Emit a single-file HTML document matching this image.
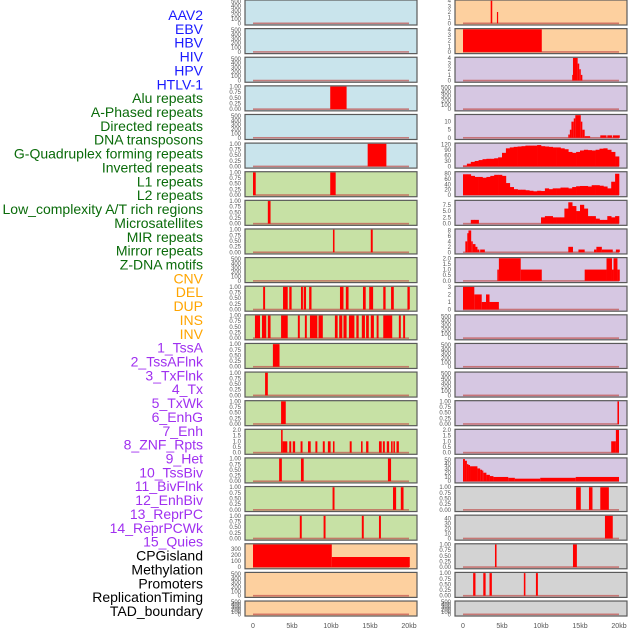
<!DOCTYPE html>
<html><head><meta charset="utf-8">
<style>
html,body{margin:0;padding:0;background:#fff;}
svg{display:block;font-family:"Liberation Sans",sans-serif;}
</style></head>
<body>
<svg id="chart" width="630" height="630" viewBox="0 0 630 630"></svg>
<script>
const trackLabels = ["AAV2","EBV","HBV","HIV","HPV","HTLV-1","Alu repeats","A-Phased repeats","Directed repeats","DNA transposons","G-Quadruplex forming repeats","Inverted repeats","L1 repeats","L2 repeats","Low_complexity A/T rich regions","Microsatellites","MIR repeats","Mirror repeats","Z-DNA motifs","CNV","DEL","DUP","INS","INV","1_TssA","2_TssAFlnk","3_TxFlnk","4_Tx","5_TxWk","6_EnhG","7_Enh","8_ZNF_Rpts","9_Het","10_TssBiv","11_BivFlnk","12_EnhBiv","13_ReprPC","14_ReprPCWk","15_Quies","CPGisland","Methylation","Promoters","ReplicationTiming","TAD_boundary"];
const labelGroups = [0,0,0,0,0,0,1,1,1,1,1,1,1,1,1,1,1,1,1,2,2,2,2,2,3,3,3,3,3,3,3,3,3,3,3,3,3,3,3,4,4,4,4,4];
const xTickLabels = ["0","5kb","10kb","15kb","20kb"];
const xTickValues = [0,5,10,15,20];
const A=["0","100","200","300","400","500"], B=["0.00","0.25","0.50","0.75","1.00"], C=["0.0","0.5","1.0","1.5","2.0"];
const leftTicks = [A,A,A,B,A,B,B,B,B,A,B,B,B,B,B,C,B,B,B,["0","100","200","300"],A,A];
const leftMax = [520,520,520,1,520,1,1,1,1,520,1,1,1,1,1,2,1,1,1,370,520,520];
const rightTicks = [["0","1","2","3","4"],["0","1","2","3","4"],["0","1","2","3","4"],A,["0","5","10"],["0","30","60","90","120"],["0","20","40","60","80"],["0.0","2.5","5.0","7.5"],["0","2","4","6","8"],C,["0","1","2","3"],A,A,A,B,C,["0","10","20","30","40","50"],B,["0","10","20","30","40"],B,B,A];
const rightMax = [4,4,4,520,14,125,85,9,8.3,2,3,520,520,520,1,2,53,1,45,1,1,520];
const leftSegs = [
 [],[],[],
 [[9.9,12.0,1]],
 [],
 [[14.7,17.1,1]],
 [[0,0.35,1],[9.9,10.6,1]],
 [[1.9,2.25,1]],
 [[10.25,10.45,1],[15.1,15.35,1]],
 [],
 [[1.3,1.55,1],[3.85,4.45,1],[4.65,4.95,1],[6.15,6.4,1],[6.5,6.8,1],[7.2,7.5,1],[11.15,11.6,1],[11.9,12.25,1],[14.1,14.45,1],[14.9,15.4,1],[16.7,17.0,1],[17.7,18.05,1],[19.8,20.1,1]],
 [[0.25,0.9,1],[1.15,1.7,1],[1.9,2.25,1],[3.6,4.45,1],[5.75,6.0,1],[6.65,6.9,1],[7.3,8.25,1],[8.4,8.95,1],[10.5,10.85,1],[11.05,11.45,1],[11.6,12.0,1],[12.3,13.0,1],[13.25,13.55,1],[13.95,14.35,1],[14.5,14.85,1],[15.1,15.5,1],[15.85,16.1,1],[16.7,17.85,1],[18.7,18.95,1],[19.25,19.5,1]],
 [[2.55,3.4,1]],
 [[1.55,1.9,1]],
 [[3.6,4.2,1]],
 [[3.6,3.8,2],[3.8,4.4,1],[4.65,4.9,1],[5.1,5.4,1],[6.1,6.35,1],[7.05,7.4,1],[8.0,8.25,1],[8.95,9.2,1],[9.6,9.95,1],[10.25,10.45,1],[12.4,12.65,1],[13.85,14.05,1],[14.5,14.8,1],[16.15,16.5,1],[16.65,16.9,1],[17.15,17.45,1],[17.7,17.9,1],[18.0,18.2,1],[18.4,18.7,1]],
 [[3.35,3.7,1],[6.15,6.5,1],[17.3,17.7,1]],
 [[10.2,10.45,1],[17.95,18.35,1],[18.95,19.3,1]],
 [[6.0,6.25,1],[9.05,9.3,1],[13.95,14.2,1],[16.15,16.4,1]],
 [[0,10.1,370],[10.1,20.1,165]],
 [],[]
];
const rightSegs = [
 [[3.55,3.75,4],[4.35,4.5,2]],
 [[0,10.1,4]],
 [[14.0,14.1,1],[14.1,14.7,4],[14.7,14.9,3],[14.9,15.1,2],[15.1,15.3,1]],
 [],
 [[13.5,13.7,2],[13.7,13.9,5],[13.9,14.2,10],[14.2,14.4,12],[14.4,15.1,14],[15.1,15.3,10],[15.3,15.6,5],[15.6,16.3,1],[17.6,18.4,1.5],[18.5,19.1,1.5],[19.2,20.1,1.5]],
 null,null,null,
 [[0.3,0.55,4],[0.55,0.7,7],[0.7,1.05,8],[1.05,1.25,4],[1.25,1.6,3],[1.6,1.85,2],[1.85,2.1,1],[2.2,2.8,1],[13.5,14.1,2],[14.8,15.6,1],[16.8,17.1,1],[17.1,17.8,2],[17.8,19.2,1],[19.6,20.1,1]],
 [[4.4,4.6,1],[4.6,7.4,2],[7.4,10.1,1],[15.6,18.4,1],[18.4,19.1,2],[19.1,19.3,1],[19.3,19.8,2],[19.8,20.1,1]],
 [[0,1.45,3],[1.45,2.4,2],[2.4,2.95,1],[2.95,3.4,2],[3.4,4.6,1]],
 [],[],[],
 [[19.8,20.0,1]],
 [[19.0,19.6,1],[19.6,20.0,2]],
 [[0,0.25,52],[0.25,0.5,48],[0.5,0.7,40],[0.7,0.9,38],[0.9,1.85,35],[1.85,2.2,30],[2.2,2.45,27],[2.45,2.6,25],[2.6,3.0,20],[3.0,3.45,15],[3.45,3.9,12],[3.9,5.8,10],[5.8,6.65,8],[6.65,9.9,6],[9.9,14.45,8],[14.45,20.0,10]],
 [[14.5,15.1,1],[16.15,16.6,1],[17.6,18.7,1]],
 [[18.2,19.2,45]],
 [[4.1,4.3,1],[14.1,14.6,1]],
 [[1.3,1.6,1],[2.6,2.9,1],[3.4,3.7,1],[7.8,8.0,1],[9.35,9.6,1]],
 []
];
const gquadBins = [5,15,25,30,35,40,42,42,45,50,75,100,105,108,110,112,115,115,115,118,112,110,108,105,105,100,95,80,75,80,88,92,90,88,92,98,100,92,80,55];
const l1Bins = [78,78,72,68,68,65,68,72,76,76,72,45,30,22,20,20,18,16,14,16,15,25,22,25,25,28,28,25,30,33,34,34,32,37,37,35,32,25,50,80];
const lowcBins = [0,0,1.5,1.5,0,0,0,0,0,0,0,0,0,0,0,0,0,0,0,0,2.5,3,3,2.5,2.5,2.5,6,8.5,7,5,7.5,6,3,3,2,1.5,1.5,3,2.5,3];
const rightBins = {5:gquadBins,6:l1Bins,7:lowcBins};

const leftColors = i => i<6?"#c9e4ec":(i<19?"#c7e1a5":"#fdd09f");
const rightColors = i => i<2?"#fdd09f":(i<17?"#d6c7e2":"#d3d3d3");
const groupColors = ["#1a1aff","#0a6b0a","#ffa500","#a030f0","#000000"];

const svg = document.getElementById('chart');
const NS = "http://www.w3.org/2000/svg";
function mk(tag, attrs, parent){const e=document.createElementNS(NS,tag);for(const k in attrs)e.setAttribute(k,attrs[k]);(parent||svg).appendChild(e);return e;}

// left labels
trackLabels.forEach((t,i)=>{
  const e=mk('text',{x:203,y:15+i*13.86+5,'text-anchor':'end','font-size':14,fill:groupColors[labelGroups[i]]});
  e.textContent=t;
  
  
});

function rowTop(r){return r*28.62;}
function rowH(r){return r===21?15:25;}

function drawPanel(col, r, ticks, ymax, segs, bins, bg){
  const px0 = col===0?245:455, pw = 172;
  const xs = kb => (col===0?253:463) + kb*7.8;
  const top = rowTop(r), h=rowH(r);
  const y0 = top + h - 1.7, y1 = top + 0.7;
  const ys = v => y0 - v/ymax*(y0-y1);
  const g = mk('g',{});
  
  
  mk('rect',{x:px0,y:top,width:pw,height:h,fill:bg,stroke:'#5a5a5a','stroke-width':1.2},g);
  mk('rect',{x:xs(0),y:y0-0.8,width:xs(20)-xs(0),height:1.6,fill:'#c0504d',opacity:0.7},g);
  ticks.forEach(t=>{
    const v=parseFloat(t);
    const e=mk('text',{x:px0-4,y:ys(v)+2,'text-anchor':'end','font-size':6,fill:'#555'},g);
    e.textContent=t;
  });
  if(bins){
    bins.forEach((v,i)=>{
      if(v<=0)return;
      const b=mk('rect',{x:xs(i*0.5),y:ys(v),width:xs((i+1)*0.5)-xs(i*0.5)+0.3,height:y0-ys(v),fill:'#ff0000'},g);
      
      
    });
  }
  (segs||[]).forEach(s=>{
    const b=mk('rect',{x:xs(s[0]),y:ys(s[2]),width:Math.max(1.2,xs(s[1])-xs(s[0])),height:y0-ys(s[2]),fill:'#ff0000'},g);
    
    
  });
}
for(let r=0;r<22;r++){
  drawPanel(0,r,leftTicks[r],leftMax[r],leftSegs[r],null,leftColors(r));
  drawPanel(1,r,rightTicks[r],rightMax[r],rightSegs[r],rightBins[r],rightColors(r));
}
// x axes
[0,1].forEach(col=>{
  xTickValues.forEach((v,i)=>{
    const e=mk('text',{x:(col===0?253:463)+v*7.8,y:628,'text-anchor':'middle','font-size':7,fill:'#555'});
    e.textContent=xTickLabels[i];
    
    
  });
});
</script>
</body></html>
